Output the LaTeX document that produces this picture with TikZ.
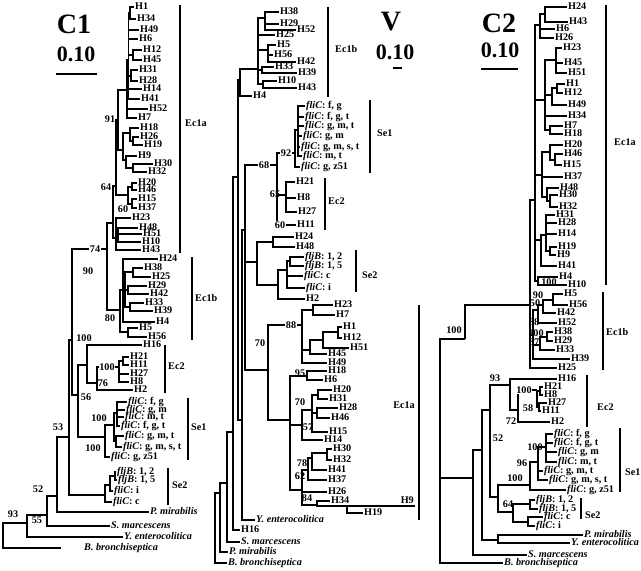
\documentclass[tikz,border=0pt]{standalone}
\usepackage{fontspec}
\setmainfont{Liberation Serif}
\usetikzlibrary{positioning}

\begin{document}
\begin{tikzpicture}[
  x=1pt, y=-1pt,
  leaf/.style={anchor=west, inner xsep=1pt, inner ysep=0pt, text height=7.5pt, text depth=2pt, font=\bfseries\fontsize{10.2}{11}\selectfont},
  boot/.style={inner sep=0.6pt, font=\bfseries\fontsize{10.2}{11}\selectfont},
  cut/.style={boot, fill=white},
  branch/.style={line width=1.3pt},
  clade/.style={line width=2.8pt},
  cladename/.style={anchor=west, inner sep=0pt, font=\bfseries\fontsize{10.2}{11}\selectfont},
  panel/.style={font=\bfseries\fontsize{28}{28}\selectfont},
  ruler/.style={font=\bfseries\fontsize{22}{22}\selectfont},
  rulerbar/.style={line width=1.6pt}
]
\useasboundingbox (0,0) rectangle (641,571);

% ================= C1 =================
\node[panel] (c1title) at (74,24) {C1};
\node[ruler] (c1scale) at (76,54) {0.10};
\draw[rulerbar] (56,74) -- (97,74);

% leaves
\node[leaf] (c1h1) at (134,7) {H1};
\node[leaf] (c1h34) at (136,19) {H34};
\node[leaf] (c1h49) at (139,30) {H49};
\node[leaf] (c1h6) at (138,39) {H6};
\node[leaf] (c1h12) at (142,50) {H12};
\node[leaf] (c1h45) at (142,60) {H45};
\node[leaf] (c1h31) at (138,70) {H31};
\node[leaf] (c1h28) at (138,81) {H28};
\node[leaf] (c1h14) at (142,89) {H14};
\node[leaf] (c1h41) at (140,99) {H41};
\node[leaf] (c1h52) at (148,109) {H52};
\node[leaf] (c1h7) at (137,118) {H7};
\node[leaf] (c1h18) at (139,128) {H18};
\node[leaf] (c1h26) at (139,137) {H26};
\node[leaf] (c1h19) at (143,145) {H19};
\node[leaf] (c1h9) at (137,156) {H9};
\node[leaf] (c1h30) at (153,164) {H30};
\node[leaf] (c1h32) at (147,172) {H32};
\node[leaf] (c1h20) at (137,183) {H20};
\node[leaf] (c1h46) at (137,190) {H46};
\node[leaf] (c1h15) at (137,199) {H15};
\node[leaf] (c1h37) at (137,208) {H37};
\node[leaf] (c1h23) at (131,218) {H23};
\node[leaf] (c1h48) at (138,228) {H48};
\node[leaf] (c1h51) at (142,234) {H51};
\node[leaf] (c1h10) at (141,242) {H10};
\node[leaf] (c1h43) at (141,250) {H43};
\node[leaf] (c1h24) at (158,259) {H24};
\node[leaf] (c1h38) at (143,268) {H38};
\node[leaf] (c1h25) at (151,277) {H25};
\node[leaf] (c1h29) at (147,286) {H29};
\node[leaf] (c1h42) at (149,294) {H42};
\node[leaf] (c1h33) at (144,303) {H33};
\node[leaf] (c1h39) at (153,311) {H39};
\node[leaf] (c1h4) at (155,322) {H4};
\node[leaf] (c1h5) at (138,328) {H5};
\node[leaf] (c1h56) at (147,337) {H56};
\node[leaf] (c1h16) at (142,345) {H16};
\node[leaf] (c1h21) at (129,357) {H21};
\node[leaf] (c1h11) at (129,365) {H11};
\node[leaf] (c1h27) at (129,374) {H27};
\node[leaf] (c1h8) at (129,382) {H8};
\node[leaf] (c1h2) at (133,390) {H2};
\node[leaf] (c1fg) at (127,402) {\textit{fliC}: f, g};
\node[leaf] (c1gm) at (125,410) {\textit{fliC}: g, m};
\node[leaf] (c1mt) at (124,417) {\textit{fliC}: m, t};
\node[leaf] (c1fgt) at (120,426) {\textit{fliC}: f, g, t};
\node[leaf] (c1gmt) at (124,436) {\textit{fliC}: g, m, t};
\node[leaf] (c1gmst) at (122,447) {\textit{fliC}: g, m, s, t};
\node[leaf] (c1gz) at (110,457) {\textit{fliC}: g, z51};
\node[leaf] (c1b12) at (116,472) {\textit{fljB}: 1, 2};
\node[leaf] (c1b15) at (117,480) {\textit{fljB}: 1, 5};
\node[leaf] (c1ci) at (113,491) {\textit{fliC}: i};
\node[leaf] (c1cc) at (112,502) {\textit{fliC}: c};
\node[leaf] (c1pm) at (149,512) {\textit{P. mirabilis}};
\node[leaf] (c1sm) at (110,526) {\textit{S. marcescens}};
\node[leaf] (c1ye) at (123,537) {\textit{Y. enterocolitica}};
\node[leaf] (c1bb) at (83,548) {\textit{B. bronchiseptica}};

% inner nodes
\coordinate (c1root) at (3,536);
\coordinate (c1o93) at (27,523);
\coordinate (c1o55) at (47,515);
\coordinate (c1o52) at (57,496);
\coordinate (c1o53) at (69,437);
\coordinate (c1in) at (72,340);
\coordinate (c1n56) at (78,395);
\coordinate (c1n74) at (107,249);
\coordinate (c1ea) at (113,223);
\coordinate (c1n64) at (116,186);
\coordinate (c1n91) at (118,120);
\coordinate (c1up) at (127,90);
\coordinate (c1top) at (128.5,60);
\coordinate (c1p1) at (130,13);
\coordinate (c1p2) at (133,55);
\coordinate (c1p3) at (131,76);
\coordinate (c1mid) at (123,150);
\coordinate (c1p4) at (130,133);
\coordinate (c1p5) at (133,141);
\coordinate (c1p6) at (126,160);
\coordinate (c1p7) at (133,168);
\coordinate (c1n60) at (128,195);
\coordinate (c1p8) at (132,187);
\coordinate (c1p9) at (132,204);
\coordinate (c1low) at (116,238);
\coordinate (c1p10) at (118,235);
\coordinate (c1n80) at (120,310);
\coordinate (c1eb) at (123,290);
\coordinate (c1q1) at (125,285);
\coordinate (c1q2) at (133,272);
\coordinate (c1q3) at (128,290);
\coordinate (c1q4) at (130,307);
\coordinate (c1q5) at (128,332);
\coordinate (c1ec2) at (87,365);
\coordinate (c1n76) at (97,383);
\coordinate (c1n100) at (119,367);
\coordinate (c1q6) at (123,361);
\coordinate (c1se1) at (105,437);
\coordinate (c1s1) at (114,425);
\coordinate (c1s2) at (117,413);
\coordinate (c1s3) at (116,441);
\coordinate (c1se2) at (105,495);
\coordinate (c1s4) at (110,485);
\coordinate (c1s5) at (115,476);

% branches
\draw[branch] (c1root) |- (c1o93);
\draw[branch, shorten >=22pt] (c1root) |- (c1bb);
\draw[branch] (c1o93) |- (c1o55) (c1o93) |- (c1ye);
\draw[branch] (c1o55) |- (c1o52) (c1o55) |- (c1sm);
\draw[branch] (c1o52) |- (c1o53) (c1o52) |- (c1pm);
\draw[branch] (c1o53) |- (c1in) (c1o53) |- (c1se2);
\draw[branch] (c1in) |- (c1n74) (c1in) |- (c1n56);
\draw[branch] (c1n74) |- (c1ea) (c1n74) |- (c1n80);
\draw[branch] (c1ea) |- (c1n64) (c1ea) |- (c1low);
\draw[branch] (c1n64) |- (c1n91) (c1n64) |- (c1n60);
\draw[branch] (c1n91) |- (c1up) (c1n91) |- (c1mid);
\draw[branch] (c1up) |- (c1top) (c1up) |- (c1h52) (c1up) |- (c1h7);
\draw[branch] (c1top) |- (c1p1) (c1top) |- (c1h49) (c1top) |- (c1h6) (c1top) |- (c1p2) (c1top) |- (c1p3) (c1top) |- (c1h14) (c1top) |- (c1h41);
\draw[branch] (c1p1) |- (c1h1) (c1p1) |- (c1h34);
\draw[branch] (c1p2) |- (c1h12) (c1p2) |- (c1h45);
\draw[branch] (c1p3) |- (c1h31) (c1p3) |- (c1h28);
\draw[branch] (c1mid) |- (c1p4) (c1mid) |- (c1p6);
\draw[branch] (c1p4) |- (c1h18) (c1p4) |- (c1p5);
\draw[branch] (c1p5) |- (c1h26) (c1p5) |- (c1h19);
\draw[branch] (c1p6) |- (c1h9) (c1p6) |- (c1p7);
\draw[branch] (c1p7) |- (c1h30) (c1p7) |- (c1h32);
\draw[branch] (c1n60) |- (c1p8) (c1n60) |- (c1p9);
\draw[branch] (c1p8) |- (c1h20) (c1p8) |- (c1h46);
\draw[branch] (c1p9) |- (c1h15) (c1p9) |- (c1h37);
\draw[branch] (c1low) |- (c1h23) (c1low) |- (c1p10) (c1low) |- (c1h43);
\draw[branch] (c1p10) |- (c1h48) (c1p10) |- (c1h51) (c1p10) |- (c1h10);
\draw[branch] (c1n80) |- (c1eb) (c1n80) |- (c1q5);
\draw[branch] (c1eb) |- (c1h24) (c1eb) |- (c1q1) (c1eb) |- (c1h4);
\draw[branch] (c1q1) |- (c1q2) (c1q1) |- (c1q3) (c1q1) |- (c1q4);
\draw[branch] (c1q2) |- (c1h38) (c1q2) |- (c1h25);
\draw[branch] (c1q3) |- (c1h29) (c1q3) |- (c1h42);
\draw[branch] (c1q4) |- (c1h33) (c1q4) |- (c1h39);
\draw[branch] (c1q5) |- (c1h5) (c1q5) |- (c1h56);
\draw[branch] (c1n56) |- (c1ec2) (c1n56) |- (c1se1);
\draw[branch] (c1ec2) |- (c1h16) (c1ec2) |- (c1n76);
\draw[branch] (c1n76) |- (c1n100) (c1n76) |- (c1h2);
\draw[branch] (c1n100) |- (c1q6) (c1n100) |- (c1h27) (c1n100) |- (c1h8);
\draw[branch] (c1q6) |- (c1h21) (c1q6) |- (c1h11);
\draw[branch] (c1se1) |- (c1s1) (c1se1) |- (c1gz);
\draw[branch] (c1s1) |- (c1s2) (c1s1) |- (c1s3);
\draw[branch] (c1s2) |- (c1fg) (c1s2) |- (c1gm) (c1s2) |- (c1mt) (c1s2) |- (c1fgt);
\draw[branch] (c1s3) |- (c1gmt) (c1s3) |- (c1gmst);
\draw[branch] (c1se2) |- (c1s4) (c1se2) |- (c1cc);
\draw[branch] (c1s4) |- (c1s5) (c1s4) |- (c1ci);
\draw[branch] (c1s5) |- (c1b12) (c1s5) |- (c1b15);

% support values
\node[boot] (c1b91) at (110,119) {91};
\node[boot] (c1b64) at (106,187) {64};
\node[boot] (c1b60) at (123,209) {60};
\node[cut] (c1b74) at (95,249) {74};
\node[boot] (c1b90) at (88,271) {90};
\node[boot] (c1b80) at (110,318) {80};
\node[boot] (c1b100a) at (84,338) {100};
\node[cut] (c1b100b) at (107,367) {100};
\node[boot] (c1b76) at (103,383) {76};
\node[boot] (c1b56) at (86,397) {56};
\node[boot] (c1b100c) at (99,418) {100};
\node[boot] (c1b53) at (58,427) {53};
\node[boot] (c1b100d) at (93,448) {100};
\node[boot] (c1b52) at (38,489) {52};
\node[boot] (c1b93) at (13,514) {93};
\node[boot] (c1b55) at (37,520) {55};

% clade bars
\draw[clade] (180,5) -- (180,253);
\node[cladename] (c1ec1a) at (185,123) {Ec1a};
\draw[clade] (192,257) -- (192,340);
\node[cladename] (c1ec1b) at (195,298) {Ec1b};
\draw[clade] (165,345) -- (165,393);
\node[cladename] (c1ec2n) at (168,366) {Ec2};
\draw[clade] (188,398) -- (188,460);
\node[cladename] (c1se1n) at (191,427) {Se1};
\draw[clade] (168,468) -- (168,505);
\node[cladename] (c1se2n) at (172,485) {Se2};

% ================= V =================
\node[panel] (vtitle) at (391,22) {V};
\node[ruler] (vscale) at (395,52) {0.10};
\draw[rulerbar] (393,68) -- (402,68);

% leaves
\node[leaf] (vh38) at (279,12) {H38};
\node[leaf] (vh29) at (279,24) {H29};
\node[leaf] (vh52) at (296,30) {H52};
\node[leaf] (vh25) at (275,35) {H25};
\node[leaf] (vh5) at (276,45) {H5};
\node[leaf] (vh56) at (273,55) {H56};
\node[leaf] (vh42) at (296,62) {H42};
\node[leaf] (vh33) at (274,67) {H33};
\node[leaf] (vh39) at (297,73) {H39};
\node[leaf] (vh10) at (277,81) {H10};
\node[leaf] (vh43) at (297,88) {H43};
\node[leaf] (vh4) at (252,96) {H4};
\node[leaf] (vfg) at (305,106) {\textit{fliC}: f, g};
\node[leaf] (vfgt) at (304,117) {\textit{fliC}: f, g, t};
\node[leaf] (vgmt) at (304,126) {\textit{fliC}: g, m, t};
\node[leaf] (vgm) at (302,136) {\textit{fliC}: g, m};
\node[leaf] (vgmst) at (300,147) {\textit{fliC}: g, m, s, t};
\node[leaf] (vmt) at (302,156) {\textit{fliC}: m, t};
\node[leaf] (vgz) at (300,167) {\textit{fliC}: g, z51};
\node[leaf] (vh21) at (295,182) {H21};
\node[leaf] (vh8) at (296,198) {H8};
\node[leaf] (vh27) at (297,212) {H27};
\node[leaf] (vh11) at (296,225) {H11};
\node[leaf] (vh24) at (294,237) {H24};
\node[leaf] (vh48) at (295,247) {H48};
\node[leaf] (vb12) at (304,257) {\textit{fljB}: 1, 2};
\node[leaf] (vb15) at (304,266) {\textit{fljB}: 1, 5};
\node[leaf] (vcc) at (303,276) {\textit{fliC}: c};
\node[leaf] (vci) at (305,288) {\textit{fliC}: i};
\node[leaf] (vh2) at (305,299) {H2};
\node[leaf] (vh23) at (333,305) {H23};
\node[leaf] (vh7) at (335,315) {H7};
\node[leaf] (vh1) at (342,327) {H1};
\node[leaf] (vh12) at (342,338) {H12};
\node[leaf] (vh51) at (349,348) {H51};
\node[leaf] (vh45) at (327,354) {H45};
\node[leaf] (vh49) at (327,363) {H49};
\node[leaf] (vh18) at (327,371) {H18};
\node[leaf] (vh6) at (323,380) {H6};
\node[leaf] (vh20) at (332,390) {H20};
\node[leaf] (vh31) at (328,399) {H31};
\node[leaf] (vh28) at (338,408) {H28};
\node[leaf] (vh46) at (330,418) {H46};
\node[leaf] (vh15) at (328,432) {H15};
\node[leaf] (vh14) at (323,440) {H14};
\node[leaf] (vh30) at (332,449) {H30};
\node[leaf] (vh32) at (332,460) {H32};
\node[leaf] (vh41) at (327,470) {H41};
\node[leaf] (vh37) at (327,480) {H37};
\node[leaf] (vh26) at (327,492) {H26};
\node[leaf] (vh34) at (330,501) {H34};
\node[leaf, anchor=south east] (vh9) at (415,506) {H9};
\node[leaf] (vh19) at (363,513) {H19};
\node[leaf] (vye) at (255,520) {\textit{Y. enterocolitica}};
\node[leaf] (vh16) at (240,530) {H16};
\node[leaf] (vsm) at (240,542) {\textit{S. marcescens}};
\node[leaf] (vpm) at (228,552) {\textit{P. mirabilis}};
\node[leaf] (vbb) at (227,563) {\textit{B. bronchiseptica}};

% inner nodes
\coordinate (vroot) at (215,528);
\coordinate (vo1) at (220,493);
\coordinate (vo2) at (227,483);
\coordinate (vo3) at (233,432);
\coordinate (vo4) at (238,177);
\coordinate (vo5) at (242,420);
\coordinate (vin) at (245,230);
\coordinate (vec1b) at (240,80);
\coordinate (vb1) at (258,69);
\coordinate (vb2) at (265,18);
\coordinate (vb3) at (268,50);
\coordinate (vb4) at (262,70);
\coordinate (vb5) at (263,84);
\coordinate (vn68) at (277,165);
\coordinate (vn92) at (295,153);
\coordinate (vse1) at (298,130);
\coordinate (vn65) at (286,195);
\coordinate (vsx) at (257,262);
\coordinate (vs1) at (273,242);
\coordinate (vse2) at (278,285);
\coordinate (vs2) at (287,270);
\coordinate (vs3) at (290,261);
\coordinate (vn70) at (268,370);
\coordinate (vn88) at (302,325);
\coordinate (va1) at (313,310);
\coordinate (va2) at (310,350);
\coordinate (va3) at (323,340);
\coordinate (va4) at (338,332);
\coordinate (vlow) at (290,420);
\coordinate (vn95) at (307,376);
\coordinate (va5) at (302,425);
\coordinate (vn70b) at (312,410);
\coordinate (va6) at (318,395);
\coordinate (va7) at (317,413);
\coordinate (va8) at (302,490);
\coordinate (vn62) at (308,470);
\coordinate (vn78) at (312,458);
\coordinate (va9) at (327,453);
\coordinate (vn84) at (317,505);
\coordinate (va10) at (347,506);

% branches
\draw[branch] (vroot) |- (vo1) (vroot) |- (vbb);
\draw[branch] (vo1) |- (vo2) (vo1) |- (vpm);
\draw[branch] (vo2) |- (vo3) (vo2) |- (vsm);
\draw[branch] (vo3) |- (vo4) (vo3) |- (vh16);
\draw[branch] (vo4) |- (vec1b) (vo4) |- (vo5);
\draw[branch] (vo5) |- (vin) (vo5) |- (vye);
\draw[branch] (vin) |- (vn68) (vin) |- (vsx) (vin) |- (vn70);
\draw[branch] (vec1b) |- (vb1) (vec1b) |- (vh4);
\draw[branch] (vb1) |- (vb2) (vb1) |- (vh25) (vb1) |- (vb3) (vb1) |- (vb4) (vb1) |- (vb5);
\draw[branch] (vb2) |- (vh38) (vb2) |- (vh29) (vb2) |- (vh52);
\draw[branch] (vb3) |- (vh5) (vb3) |- (vh56) (vb3) |- (vh42);
\draw[branch] (vb4) |- (vh33) (vb4) |- (vh39);
\draw[branch] (vb5) |- (vh10) (vb5) |- (vh43);
\draw[branch] (vn68) |- (vn92) (vn68) |- (vn65) (vn68) |- (vh11);
\draw[branch] (vn92) |- (vse1) (vn92) |- (vgz);
\draw[branch] (vse1) |- (vfg) (vse1) |- (vfgt) (vse1) |- (vgmt) (vse1) |- (vgm) (vse1) |- (vgmst) (vse1) |- (vmt);
\draw[branch] (vn65) |- (vh21) (vn65) |- (vh8) (vn65) |- (vh27);
\draw[branch] (vsx) |- (vs1) (vsx) |- (vse2);
\draw[branch] (vs1) |- (vh24) (vs1) |- (vh48);
\draw[branch] (vse2) |- (vs2) (vse2) |- (vh2);
\draw[branch] (vs2) |- (vs3) (vs2) |- (vcc) (vs2) |- (vci);
\draw[branch] (vs3) |- (vb12) (vs3) |- (vb15);
\draw[branch] (vn70) |- (vn88) (vn70) |- (vlow);
\draw[branch] (vn88) |- (va1) (vn88) |- (va2) (vn88) |- (vh49);
\draw[branch] (va1) |- (vh23) (va1) |- (vh7);
\draw[branch] (va2) |- (va3) (va2) |- (vh45);
\draw[branch] (va3) |- (va4) (va3) |- (vh51);
\draw[branch] (va4) |- (vh1) (va4) |- (vh12);
\draw[branch] (vlow) |- (vn95) (vlow) |- (va5) (vlow) |- (va8);
\draw[branch] (vn95) |- (vh18) (vn95) |- (vh6);
\draw[branch] (va5) |- (vn70b) (va5) |- (vh14);
\draw[branch] (vn70b) |- (va6) (vn70b) |- (va7) (vn70b) |- (vh15);
\draw[branch] (va6) |- (vh20) (va6) |- (vh31);
\draw[branch] (va7) |- (vh28) (va7) |- (vh46);
\draw[branch] (va8) |- (vn62) (va8) |- (vh26) (va8) |- (vn84);
\draw[branch] (vn62) |- (vn78) (vn62) |- (vh37);
\draw[branch] (vn78) |- (va9) (vn78) |- (vh41);
\draw[branch] (va9) |- (vh30) (va9) |- (vh32);
\draw[branch] (vn84) |- (vh34) (vn84) |- (va10);
\draw[branch] (va10) |- (vh9.south east) (va10) |- (vh19);

% support values
\node[cut] (vb92) at (286,153) {92};
\node[cut] (vb68) at (264,165) {68};
\node[boot] (vb65) at (275,194) {65};
\node[cut] (vb60) at (280,225) {60};
\node[cut] (vb88) at (291,325) {88};
\node[boot] (vb70) at (260,343) {70};
\node[boot] (vb95) at (300,373) {95};
\node[boot] (vb70b) at (300,402) {70};
\node[boot] (vb57) at (308,427) {57};
\node[boot] (vb78) at (302,463) {78};
\node[boot] (vb62) at (300,476) {62};
\node[boot] (vb84) at (307,498) {84};

% clade bars
\draw[clade] (328,7) -- (328,97);
\node[cladename] (vec1bn) at (335,49) {Ec1b};
\draw[clade] (370,100) -- (370,173);
\node[cladename] (vse1n) at (377,133) {Se1};
\draw[clade] (325,178) -- (325,230);
\node[cladename] (vec2n) at (328,201) {Ec2};
\draw[clade] (356,250) -- (356,292);
\node[cladename] (vse2n) at (362,275) {Se2};
\draw[clade] (419,305) -- (419,520);
\node[cladename, anchor=east] (vec1an) at (415,405) {Ec1a};

% ================= C2 =================
\node[panel] (c2title) at (499,23) {C2};
\node[ruler] (c2scale) at (500,50) {0.10};
\draw[rulerbar] (481,69) -- (518,69);

% leaves
\node[leaf] (c2h24) at (567,7) {H24};
\node[leaf] (c2h43) at (568,22) {H43};
\node[leaf] (c2h6) at (555,29) {H6};
\node[leaf] (c2h26) at (554,38) {H26};
\node[leaf] (c2h23) at (562,48) {H23};
\node[leaf] (c2h45) at (563,63) {H45};
\node[leaf] (c2h51) at (567,73) {H51};
\node[leaf] (c2h1) at (565,84) {H1};
\node[leaf] (c2h12) at (563,93) {H12};
\node[leaf] (c2h49) at (567,105) {H49};
\node[leaf] (c2h34) at (567,116) {H34};
\node[leaf] (c2h7) at (563,126) {H7};
\node[leaf] (c2h18) at (563,134) {H18};
\node[leaf] (c2h20) at (563,145) {H20};
\node[leaf] (c2h46) at (563,154) {H46};
\node[leaf] (c2h15) at (562,165) {H15};
\node[leaf] (c2h37) at (563,177) {H37};
\node[leaf] (c2h48) at (559,188) {H48};
\node[leaf] (c2h30) at (558,195) {H30};
\node[leaf] (c2h32) at (558,207) {H32};
\node[leaf] (c2h31) at (555,215) {H31};
\node[leaf] (c2h28) at (557,223) {H28};
\node[leaf] (c2h14) at (557,234) {H14};
\node[leaf] (c2h19) at (557,247) {H19};
\node[leaf] (c2h9) at (556,255) {H9};
\node[leaf] (c2h41) at (557,266) {H41};
\node[leaf] (c2h4) at (558,277) {H4};
\node[leaf] (c2h10) at (567,285) {H10};
\node[leaf] (c2h5) at (563,294) {H5};
\node[leaf] (c2h56) at (568,305) {H56};
\node[leaf] (c2h42) at (556,313) {H42};
\node[leaf] (c2h52) at (557,323) {H52};
\node[leaf] (c2h38) at (553,332) {H38};
\node[leaf] (c2h29) at (553,341) {H29};
\node[leaf] (c2h33) at (555,350) {H33};
\node[leaf] (c2h39) at (570,359) {H39};
\node[leaf] (c2h25) at (557,368) {H25};
\node[leaf] (c2h16) at (557,379) {H16};
\node[leaf] (c2h21) at (543,387) {H21};
\node[leaf] (c2h8) at (543,395) {H8};
\node[leaf] (c2h27) at (547,403) {H27};
\node[leaf] (c2h11) at (541,411) {H11};
\node[leaf] (c2h2) at (550,422) {H2};
\node[leaf] (c2fg) at (553,434) {\textit{fliC}: f, g};
\node[leaf] (c2fgt) at (553,443) {\textit{fliC}: f, g, t};
\node[leaf] (c2gm) at (557,452) {\textit{fliC}: g, m};
\node[leaf] (c2mt) at (557,462) {\textit{fliC}: m, t};
\node[leaf] (c2gmt) at (543,471) {\textit{fliC}: g, m, t};
\node[leaf] (c2gmst) at (548,480) {\textit{fliC}: g, m, s, t};
\node[leaf] (c2gz) at (566,490) {\textit{fliC}: g, z51};
\node[leaf] (c2b12) at (535,500) {\textit{fljB}: 1, 2};
\node[leaf] (c2b15) at (538,509) {\textit{fljB}: 1, 5};
\node[leaf] (c2cc) at (543,517) {\textit{fliC}: c};
\node[leaf] (c2ci) at (535,526) {\textit{fliC}: i};
\node[leaf] (c2pm) at (583,535) {\textit{P. mirabilis}};
\node[leaf] (c2ye) at (570,543) {\textit{Y. enterocolitica}};
\node[leaf] (c2sm) at (527,555) {\textit{S. marcescens}};
\node[leaf] (c2bb) at (503,563) {\textit{B. bronchiseptica}};

% inner nodes
\coordinate (c2root) at (440,450);
\coordinate (c2n100) at (465,339);
\coordinate (c2ec1) at (530,305);
\coordinate (c2ea) at (535,200);
\coordinate (c2k1) at (540,25);
\coordinate (c2k2) at (545,14);
\coordinate (c2k3) at (545,100);
\coordinate (c2k4) at (556,60);
\coordinate (c2k5) at (552,95);
\coordinate (c2k6) at (557,88);
\coordinate (c2k7) at (550,130);
\coordinate (c2k8) at (542,175);
\coordinate (c2k9) at (550,152);
\coordinate (c2k10) at (555,160);
\coordinate (c2k11) at (547,197);
\coordinate (c2k12) at (550,201);
\coordinate (c2k13) at (541,240);
\coordinate (c2k14) at (546,235);
\coordinate (c2k15) at (550,251);
\coordinate (c2k16) at (538,281);
\coordinate (c2eb) at (533,335);
\coordinate (c2n50) at (538,310);
\coordinate (c2n90) at (543,305);
\coordinate (c2k17) at (553,300);
\coordinate (c2n87) at (540,345);
\coordinate (c2k18) at (547,337);
\coordinate (c2out) at (473,478);
\coordinate (c2k19) at (482,450);
\coordinate (c2k20) at (498,540);
\coordinate (c2n52) at (490,410);
\coordinate (c2n93) at (510,385);
\coordinate (c2n72) at (518,410);
\coordinate (c2ec2) at (537,390);
\coordinate (c2k21) at (540,391);
\coordinate (c2n58) at (539,407);
\coordinate (c2se) at (498,497);
\coordinate (c2se1) at (530,485);
\coordinate (c2n96) at (538,462);
\coordinate (c2k22) at (546,447);
\coordinate (c2n64) at (513,512);
\coordinate (c2k23) at (530,504);
\coordinate (c2k24) at (528,522);

% branches
\draw[branch] (c2root) |- (c2n100) (c2root) |- (c2out) (c2root) |- (c2bb);
\draw[branch] (c2n100) |- (c2ec1);
\draw[branch] (c2ec1) |- (c2ea) (c2ec1) |- (c2eb) (c2ec1) |- (c2h25);
\draw[branch] (c2ea) |- (c2k1) (c2ea) |- (c2k3) (c2ea) |- (c2k8) (c2ea) |- (c2k13) (c2ea) |- (c2k16);
\draw[branch] (c2k1) |- (c2k2) (c2k1) |- (c2h6) (c2k1) |- (c2h26);
\draw[branch] (c2k2) |- (c2h24) (c2k2) |- (c2h43);
\draw[branch] (c2k3) |- (c2k4) (c2k3) |- (c2k5) (c2k3) |- (c2h34) (c2k3) |- (c2k7);
\draw[branch] (c2k4) |- (c2h23) (c2k4) |- (c2h45) (c2k4) |- (c2h51);
\draw[branch] (c2k5) |- (c2k6) (c2k5) |- (c2h49);
\draw[branch] (c2k6) |- (c2h1) (c2k6) |- (c2h12);
\draw[branch] (c2k7) |- (c2h7) (c2k7) |- (c2h18);
\draw[branch] (c2k8) |- (c2k9) (c2k8) |- (c2h37) (c2k8) |- (c2k11);
\draw[branch] (c2k9) |- (c2h20) (c2k9) |- (c2k10);
\draw[branch] (c2k10) |- (c2h46) (c2k10) |- (c2h15);
\draw[branch] (c2k11) |- (c2h48) (c2k11) |- (c2k12);
\draw[branch] (c2k12) |- (c2h30) (c2k12) |- (c2h32);
\draw[branch] (c2k13) |- (c2k14) (c2k13) |- (c2h41);
\draw[branch] (c2k14) |- (c2h31) (c2k14) |- (c2h28) (c2k14) |- (c2h14) (c2k14) |- (c2k15);
\draw[branch] (c2k15) |- (c2h19) (c2k15) |- (c2h9);
\draw[branch] (c2k16) |- (c2h4) (c2k16) |- (c2h10);
\draw[branch] (c2eb) |- (c2n50) (c2eb) |- (c2n87) (c2eb) |- (c2h39);
\draw[branch] (c2n50) |- (c2n90) (c2n50) |- (c2h52);
\draw[branch] (c2n90) |- (c2k17) (c2n90) |- (c2h42);
\draw[branch] (c2k17) |- (c2h5) (c2k17) |- (c2h56);
\draw[branch] (c2n87) |- (c2k18) (c2n87) |- (c2h33);
\draw[branch] (c2k18) |- (c2h38) (c2k18) |- (c2h29);
\draw[branch] (c2out) |- (c2k19) (c2out) |- (c2sm);
\draw[branch] (c2k19) |- (c2n52) (c2k19) |- (c2k20);
\draw[branch] (c2k20) |- (c2pm) (c2k20) |- (c2ye);
\draw[branch] (c2n52) |- (c2n93) (c2n52) |- (c2se);
\draw[branch] (c2n93) |- (c2h16) (c2n93) |- (c2n72);
\draw[branch] (c2n72) |- (c2ec2) (c2n72) |- (c2h2);
\draw[branch] (c2ec2) |- (c2k21) (c2ec2) |- (c2n58);
\draw[branch] (c2k21) |- (c2h21) (c2k21) |- (c2h8);
\draw[branch] (c2n58) |- (c2h27) (c2n58) |- (c2h11);
\draw[branch] (c2se) |- (c2se1) (c2se) |- (c2n64);
\draw[branch] (c2se1) |- (c2n96) (c2se1) |- (c2gz);
\draw[branch] (c2n96) |- (c2k22) (c2n96) |- (c2gmt) (c2n96) |- (c2gmst);
\draw[branch] (c2k22) |- (c2fg) (c2k22) |- (c2fgt) (c2k22) |- (c2gm) (c2k22) |- (c2mt);
\draw[branch] (c2n64) |- (c2k23) (c2n64) |- (c2k24);
\draw[branch] (c2k23) |- (c2b12) (c2k23) |- (c2b15);
\draw[branch] (c2k24) |- (c2cc) (c2k24) |- (c2ci);

% support values
\node[boot] (c2b100a) at (549,282) {100};
\node[boot] (c2b90) at (538,295) {90};
\node[boot] (c2b50) at (535,303) {50};
\node[boot] (c2b88) at (534,322) {88};
\node[boot] (c2b100b) at (536,333) {100};
\node[boot] (c2b87) at (534,342) {87};
\node[boot] (c2b100c) at (454,330) {100};
\node[boot] (c2b93) at (495,378) {93};
\node[cut] (c2b100d) at (524,390) {100};
\node[boot] (c2b58) at (528,408) {58};
\node[boot] (c2b72) at (511,421) {72};
\node[boot] (c2b52) at (498,438) {52};
\node[boot] (c2b100e) at (535,447) {100};
\node[boot] (c2b96) at (522,463) {96};
\node[boot] (c2b100f) at (515,478) {100};
\node[boot] (c2b64) at (508,504) {64};

% clade bars
\draw[clade] (606,5) -- (606,285);
\node[cladename] (c2ec1an) at (614,142) {Ec1a};
\draw[clade] (603,292) -- (603,370);
\node[cladename] (c2ec1bn) at (606,332) {Ec1b};
\draw[clade] (587,375) -- (587,427);
\node[cladename] (c2ec2n) at (597,407) {Ec2};
\draw[clade] (620,428) -- (620,492);
\node[cladename] (c2se1n) at (625,472) {Se1};
\draw[clade] (581,498) -- (581,519);
\node[cladename] (c2se2n) at (585,515) {Se2};
\end{tikzpicture}
\end{document}
